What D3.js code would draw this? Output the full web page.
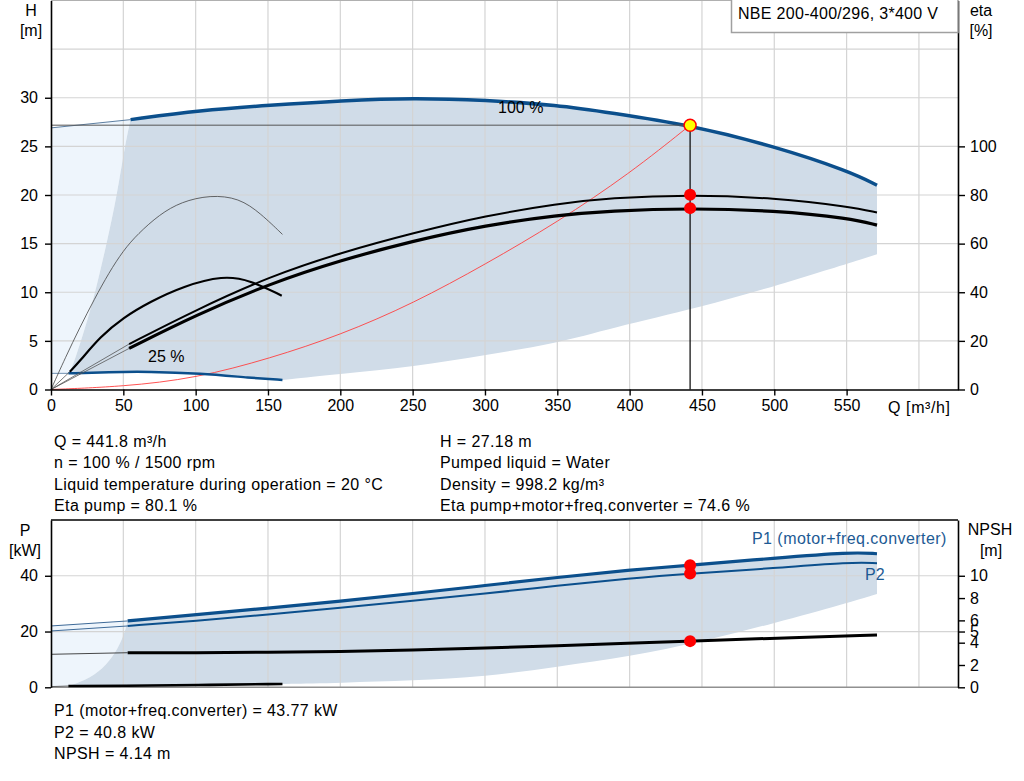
<!DOCTYPE html>
<html><head><meta charset="utf-8">
<script src="https://cdn.jsdelivr.net/npm/d3@7"></script>
<style>
body{margin:0;background:#fff;}
svg{display:block;font-family:"Liberation Sans",Arial,Helvetica,sans-serif;}
</style>
</head><body>
<svg id="c" width="1024" height="781"></svg>
<script>
// ---------- tick / grid values ----------
const qTicks = [0,50,100,150,200,250,300,350,400,450,500,550];
const qGrid = [50,100,150,200,250,300,350,400,450,500,550,600];
const hTicks = [0,5,10,15,20,25,30];
const hGrid = [5,10,15,20,25,30,35];
const etaTicks = [0,20,40,60,80,100];
const pTicks = [0,20,40];
const pGrid = [20,40];
const npshTicks = [0,2,4,5,6,8,10];

// ---------- duty point ----------
const dutyQ = 441.8, dutyH = 27.18, dutyEtaP = 80.1, dutyEtaT = 74.6;
const dutyP1 = 43.77, dutyP2 = 40.8, dutyNPSH = 4.14;

// ---------- top chart curves [Q, value] ----------
const head100Ext = [[0,26.9],[55,27.75]];
const head100 = [[55,27.75],[103,28.7],[151.5,29.24],[200.5,29.7],[250.6,30.0],[300.6,29.75],[350,29.24],[386.6,28.45],[441.8,27.18],[499,25.06],[552.6,22.4],[571,21.0]];
const head25Ext = [[0,1.66],[12,1.66]];
const head25 = [[12,1.66],[40,1.8],[68,1.85],[103,1.66],[138,1.2],[160,0.98]];
const etaPump100Ext = [[0,0],[54,18.7]];
const etaPump100 = [[54,18.7],[100,32.7],[151.5,46.6],[200.5,56.3],[250.6,64.4],[300.6,71.5],[350,76.4],[386.6,78.8],[441.8,80.1],[500,78.8],[552.6,75.2],[571,72.8]];
const etaTot100Ext = [[0,0],[54,16.9]];
const etaTot100 = [[54,16.9],[100,30.6],[151.5,43.6],[200.5,53.2],[250.6,61.2],[300.6,67.6],[350,71.7],[386.6,73.5],[441.8,74.6],[500,73.6],[552.6,70.4],[571,67.6]];
const etaPump25 = [[0,0],[10,13.2],[20,25.6],[30,37.2],[40,48],[50,57.2],[60,64],[75,72],[90,77.2],[110,80],[130,78.8],[145,72.4],[160,63.8]];
const etaTot25Ext = [[0,0],[13,7.3]];
const etaTot25 = [[13,7.3],[20,11.7],[34,21.7],[50,29.6],[68.5,36.1],[91.5,42.5],[119,46.9],[137.6,45],[159.5,38.6]];
const systemCurve = [[0,0],[50,0.3],[100,1.15],[151.5,3.2],[200,5.6],[250.6,8.86],[300.6,12.9],[350,17.2],[400,22.2],[441.8,27.18]];
const minFlowEdge = [[12,1.66],[15,2.35],[22.4,5.78],[29.3,9.2],[38.5,15],[45.6,20],[51,25],[55,27.75]];
const lowerEdge = [[571,13.9],[500,10.6],[450,8.5],[386.6,6.3],[350,4.75],[300.6,3.55],[250.6,2.35],[200,1.6],[160,0.98]];

// ---------- bottom chart curves [Q, value] ----------
const p1Ext = [[0,22.0],[53,23.8]];
const p1 = [[53,23.8],[100,26.0],[150,28.4],[200,30.9],[250,33.6],[300,36.5],[350,39.4],[400,42.1],[441.8,43.77],[500,46.3],[553,48.5],[571,47.9]];
const p2Ext = [[0,20.2],[53,22.0]];
const p2 = [[53,22.0],[100,23.8],[150,26.1],[200,28.5],[250,31.0],[300,33.6],[350,36.4],[400,39.1],[441.8,40.8],[500,42.7],[553,44.9],[571,44.5]];
const npshExt = [[0,2.96],[53,3.1]];
const npsh = [[53,3.1],[100,3.1],[150,3.14],[200,3.2],[250,3.35],[300,3.5],[350,3.73],[400,3.95],[441.8,4.14],[500,4.4],[571,4.7]];
const p1Low25Ext = [[0,0.25],[12,0.45]];
const p1Low25 = [[12,0.45],[50,0.55],[100,0.8],[160,1.2]];
const pMinEdge = [[12,0.45],[27,3.2],[38.5,8.0],[46.5,14],[51.2,20],[53,23.8]];
const pLowerEdge = [[571,33.5],[550,30.2],[500,23],[450,16.4],[400,11],[350,7.4],[300,3.8],[250,2.4],[200,1.6],[160,1.2]];

// ---------- texts ----------
const infoLeft = ["Q = 441.8 m³/h","n = 100 % / 1500 rpm","Liquid temperature during operation = 20 °C","Eta pump = 80.1 %"];
const infoRight = ["H = 27.18 m","Pumped liquid = Water","Density = 998.2 kg/m³","Eta pump+motor+freq.converter = 74.6 %"];
const infoBottom = ["P1 (motor+freq.converter) = 43.77 kW","P2 = 40.8 kW","NPSH = 4.14 m"];
const titleText = "NBE 200-400/296, 3*400 V";

// ---------- layout ----------
const L = 51, R = 958;
const T1 = 0.5, B1 = 389.5;
const T2 = 520, B2 = 687.3;
const BLUE = "#0b4f8c", SHADE = "#d0dce8", LIGHT = "#eef5fc", GRID = "#d4d4d4";

const svg = d3.select("#c");
const x = d3.scaleLinear().domain([0,627]).range([L,R]);
const yH = d3.scaleLinear().domain([0,40]).range([B1,T1]);
const yEta = d3.scaleLinear().domain([0,160]).range([B1,T1]);
const yP = d3.scaleLinear().domain([0,60]).range([B2,T2]);
const yN = d3.scaleLinear().domain([0,15]).range([B2,T2]);

function gen(ys, lin){ return d3.line().x(d=>x(d[0])).y(d=>ys(d[1])).curve(lin?d3.curveLinear:d3.curveBasis); }
function seg(pts, ys, first, lin){ const s = gen(ys, lin)(pts); return first? s : s.replace(/^M/,"L"); }
function draw(g, pts, ys, color, w, lin){ g.append("path").attr("d", gen(ys, lin)(pts)).attr("fill","none").attr("stroke",color).attr("stroke-width",w).attr("stroke-linejoin","round").attr("stroke-linecap","butt"); }

// ================= TOP CHART =================
const g1 = svg.append("g");
g1.append("path").attr("fill",LIGHT)
  .attr("d", seg(head100Ext,yH,true,true) + seg(minFlowEdge.slice().reverse(),yH,false) + seg([[12,1.66],[0,1.66]],yH,false,true) + "Z");
g1.append("path").attr("fill",SHADE)
  .attr("d", seg(head100,yH,true) + seg([[571,21.0],[571,13.9]],yH,false,true) + seg(lowerEdge,yH,false) + seg(head25.slice().reverse(),yH,false) + seg(minFlowEdge,yH,false) + "Z");
g1.selectAll(".vg").data(qGrid).join("line").attr("x1",d=>x(d)).attr("x2",d=>x(d)).attr("y1",T1).attr("y2",B1).attr("stroke",GRID).attr("stroke-width",1.2);
g1.selectAll(".hg").data(hGrid).join("line").attr("x1",L).attr("x2",R).attr("y1",d=>yH(d)).attr("y2",d=>yH(d)).attr("stroke",GRID).attr("stroke-width",1.2);
g1.append("line").attr("x1",L).attr("x2",R).attr("y1",T1).attr("y2",T1).attr("stroke","#b0b0b0").attr("stroke-width",1);

draw(g1, systemCurve, yH, "#ff4040", 0.9);
draw(g1, head100Ext, yH, "#4a6f96", 0.9, true);
draw(g1, head100, yH, BLUE, 3.5);
draw(g1, head25Ext, yH, "#6f8fb0", 1, true);
draw(g1, head25, yH, BLUE, 2.5);
draw(g1, etaPump100Ext, yEta, "#555", 0.8, true);
draw(g1, etaTot100Ext, yEta, "#555", 0.8, true);
draw(g1, etaPump100, yEta, "#000", 2);
draw(g1, etaTot100, yEta, "#000", 3.2);
draw(g1, etaPump25, yEta, "#444", 0.8);
draw(g1, etaTot25Ext, yEta, "#555", 0.8, true);
draw(g1, etaTot25, yEta, "#000", 2.2);

g1.append("line").attr("x1",L).attr("x2",x(dutyQ)).attr("y1",yH(dutyH)).attr("y2",yH(dutyH)).attr("stroke","#555").attr("stroke-width",1);
g1.append("line").attr("x1",x(dutyQ)).attr("x2",x(dutyQ)).attr("y1",yH(dutyH)).attr("y2",B1).attr("stroke","#000").attr("stroke-width",1.2);
g1.append("circle").attr("cx",x(dutyQ)).attr("cy",yEta(dutyEtaP)).attr("r",6).attr("fill","#ff0000");
g1.append("circle").attr("cx",x(dutyQ)).attr("cy",yEta(dutyEtaT)).attr("r",6).attr("fill","#ff0000");
g1.append("circle").attr("cx",x(dutyQ)).attr("cy",yH(dutyH)).attr("r",6).attr("fill","#ffff00").attr("stroke","#ff0000").attr("stroke-width",1.5);

g1.append("text").attr("x",498).attr("y",113).attr("font-size",16).text("100 %");
g1.append("text").attr("x",148).attr("y",362).attr("font-size",16).text("25 %");

// axes
function styleAxis(sel){ sel.select(".domain").attr("stroke","#000").attr("stroke-width",1.6); sel.selectAll(".tick line").attr("stroke","#000").attr("stroke-width",1.4); sel.selectAll("text").attr("font-size",16).attr("fill","#000").attr("font-family","Liberation Sans, Arial, sans-serif"); }
svg.append("g").attr("transform",`translate(${L},0)`).call(d3.axisLeft(yH).tickValues(hTicks).tickSize(6).tickPadding(7).tickSizeOuter(0)).call(styleAxis);
svg.append("g").attr("transform",`translate(${R},0)`).call(d3.axisRight(yEta).tickValues(etaTicks).tickSize(7).tickPadding(5).tickSizeOuter(0)).call(styleAxis);
svg.append("g").attr("transform",`translate(0,${B1})`).call(d3.axisBottom(x).tickValues(qTicks).tickSize(6).tickPadding(4).tickSizeOuter(0)).call(styleAxis);

const t = (xx,yy,s,anchor,col,ls)=>svg.append("text").attr("x",xx).attr("y",yy).attr("font-size",16).attr("letter-spacing",ls||0).attr("text-anchor",anchor||"start").attr("fill",col||"#000").text(s);
t(31,16,"H","middle"); t(31,36,"[m]","middle");
t(981,16,"eta","middle"); t(981,36,"[%]","middle");
t(888,413,"Q [m³/h]","start","#000",0.6);

svg.append("rect").attr("x",731.5).attr("y",-1).attr("width",R-731.5).attr("height",33.5).attr("fill","#fff").attr("stroke","#a0a0a0").attr("stroke-width",1.5);
t(738,19,titleText,"start","#000",0.3);

infoLeft.forEach((s,i)=>t(54,447+i*21.4,s,"start","#000",0.4));
infoRight.forEach((s,i)=>t(440,447+i*21.4,s,"start","#000",0.4));

// ================= BOTTOM CHART =================
const g2 = svg.append("g");
g2.append("path").attr("fill",LIGHT)
  .attr("d", seg(p1Ext,yP,true,true) + seg(pMinEdge.slice().reverse(),yP,false) + seg([[12,0.45],[0,0.25]],yP,false,true) + "Z");
g2.append("path").attr("fill",SHADE)
  .attr("d", seg(p1,yP,true) + seg([[571,47.9],[571,33.5]],yP,false,true) + seg(pLowerEdge,yP,false) + seg(p1Low25.slice().reverse(),yP,false) + seg(pMinEdge,yP,false) + "Z");
g2.selectAll(".vg").data(qGrid).join("line").attr("x1",d=>x(d)).attr("x2",d=>x(d)).attr("y1",T2).attr("y2",B2).attr("stroke",GRID).attr("stroke-width",1.2);
g2.selectAll(".hg").data(pGrid).join("line").attr("x1",L).attr("x2",R).attr("y1",d=>yP(d)).attr("y2",d=>yP(d)).attr("stroke",GRID).attr("stroke-width",1.2);
g2.append("line").attr("x1",L).attr("x2",R).attr("y1",T2).attr("y2",T2).attr("stroke","#000").attr("stroke-width",1.3);
g2.append("line").attr("x1",L).attr("x2",R).attr("y1",B2).attr("y2",B2).attr("stroke","#909090").attr("stroke-width",1.5);

draw(g2, p1Ext, yP, "#3e6a98", 1, true);
draw(g2, p2Ext, yP, "#3e6a98", 1, true);
draw(g2, p1, yP, BLUE, 3.2);
draw(g2, p2, yP, BLUE, 2);
draw(g2, npshExt, yN, "#333", 0.9, true);
draw(g2, npsh, yN, "#000", 3);
draw(g2, p1Low25Ext, yP, "#555", 0.9, true);
draw(g2, p1Low25, yP, "#000", 2.6);

g2.append("circle").attr("cx",x(dutyQ)).attr("cy",yP(dutyP1)).attr("r",6).attr("fill","#ff0000");
g2.append("circle").attr("cx",x(dutyQ)).attr("cy",yP(dutyP2)).attr("r",6).attr("fill","#ff0000");
g2.append("circle").attr("cx",x(dutyQ)).attr("cy",yN(dutyNPSH)).attr("r",6).attr("fill","#ff0000");

svg.append("g").attr("transform",`translate(${L},0)`).call(d3.axisLeft(yP).tickValues(pTicks).tickSize(6).tickPadding(7).tickSizeOuter(0)).call(styleAxis);
svg.append("g").attr("transform",`translate(${R},0)`).call(d3.axisRight(yN).tickValues(npshTicks).tickSize(7).tickPadding(5).tickSizeOuter(0)).call(styleAxis);

t(25,536,"P","middle"); t(25,556,"[kW]","middle");
t(990,535,"NPSH","middle"); t(991,556,"[m]","middle");
t(752,544,"P1 (motor+freq.converter)","start","#1d5a94",0.45);
t(865,580,"P2","start","#1d5a94");

infoBottom.forEach((s,i)=>t(54,716+i*21.5,s,"start","#000",0.4));
</script>
</body></html>
